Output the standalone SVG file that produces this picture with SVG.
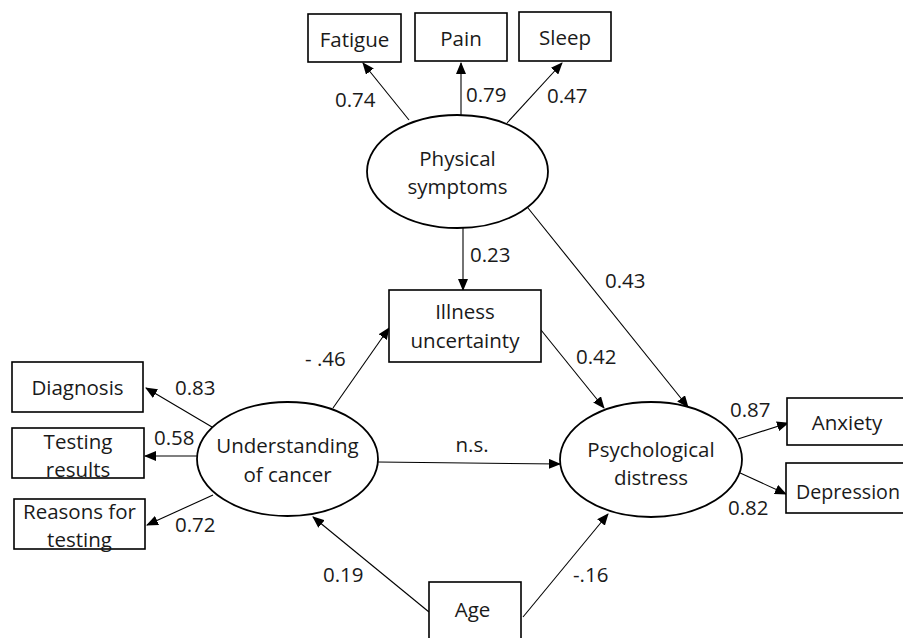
<svg xmlns="http://www.w3.org/2000/svg" width="903" height="638" viewBox="0 0 903 638">
<defs>
<marker id="ah" markerWidth="12" markerHeight="10" refX="11" refY="5" orient="auto" markerUnits="userSpaceOnUse">
<path d="M0,0 L12,5 L0,10 Z" fill="#000"/>
</marker>
<style>
text{font-family:"Open Sans","DejaVu Sans",sans-serif;font-size:20.5px;fill:#1a1a1a;text-anchor:middle}
.box{fill:#fff;stroke:#000;stroke-width:1.6}
.ell{fill:#fff;stroke:#000;stroke-width:1.8}
.ln{stroke:#000;stroke-width:1.1;fill:none;marker-end:url(#ah)}
.lbl{text-anchor:start}
</style>
</defs>
<rect width="903" height="638" fill="#fff"/>
<g id="connectors">
<line class="ln" x1="409" y1="120" x2="363" y2="63"/>
<line class="ln" x1="461" y1="117" x2="461" y2="63"/>
<line class="ln" x1="507" y1="123" x2="562" y2="63"/>
<line class="ln" x1="463" y1="228" x2="463" y2="290"/>
<line class="ln" x1="528" y1="208" x2="688" y2="407"/>
<line class="ln" x1="541" y1="330" x2="604" y2="408"/>
<line class="ln" x1="333" y1="408" x2="389" y2="328"/>
<line class="ln" x1="212" y1="427" x2="146" y2="388"/>
<line class="ln" x1="197" y1="456" x2="145" y2="456"/>
<line class="ln" x1="213" y1="495" x2="147" y2="525"/>
<line class="ln" x1="378" y1="462" x2="560" y2="464"/>
<line class="ln" x1="738" y1="439" x2="788" y2="423"/>
<line class="ln" x1="738" y1="472" x2="786" y2="494"/>
<line class="ln" x1="429" y1="612" x2="313" y2="517"/>
<line class="ln" x1="523" y1="617" x2="608" y2="514"/>
</g>
<g id="fatigue"><rect class="box" x="308" y="14" width="93" height="48"/><text x="354.5" y="47">Fatigue</text></g>
<g id="pain"><rect class="box" x="415" y="13" width="92" height="48"/><text x="461" y="46">Pain</text></g>
<g id="sleep"><rect class="box" x="519" y="12" width="92" height="49"/><text x="565" y="45">Sleep</text></g>
<g id="physical"><ellipse class="ell" cx="457.5" cy="171.5" rx="90.5" ry="56.5"/><text x="457.5" y="166">Physical</text><text x="457.5" y="194">symptoms</text></g>
<g id="illness"><rect class="box" x="389" y="290" width="152" height="72"/><text x="465" y="319">Illness</text><text x="465" y="348">uncertainty</text></g>
<g id="understanding"><ellipse class="ell" cx="287.5" cy="459" rx="90.5" ry="57"/><text x="287.5" y="453">Understanding</text><text x="287.5" y="482">of cancer</text></g>
<g id="psych"><ellipse class="ell" cx="651" cy="459.5" rx="91" ry="57.5"/><text x="651" y="457">Psychological</text><text x="651" y="485">distress</text></g>
<g id="diagnosis"><rect class="box" x="12" y="362" width="131" height="50"/><text x="77.5" y="395">Diagnosis</text></g>
<g id="testing"><rect class="box" x="12" y="428" width="132" height="50"/><text x="78" y="449">Testing</text><text x="78" y="477">results</text></g>
<g id="reasons"><rect class="box" x="14" y="499" width="131" height="50"/><text x="79.5" y="519">Reasons for</text><text x="79.5" y="547">testing</text></g>
<g id="anxiety"><rect class="box" x="787" y="398" width="120" height="47"/><text x="847" y="430">Anxiety</text></g>
<g id="depression"><rect class="box" x="786" y="463" width="130" height="50"/><text class="lbl" x="796" y="499" font-size="19.5" textLength="104" lengthAdjust="spacingAndGlyphs">Depression</text></g>
<g id="age"><rect class="box" x="429" y="582" width="92" height="70"/><text x="472.5" y="617">Age</text></g>
<g id="labels">
<text class="lbl" x="335" y="107">0.74</text>
<text class="lbl" x="466" y="102">0.79</text>
<text class="lbl" x="547" y="103">0.47</text>
<text class="lbl" x="470" y="262">0.23</text>
<text class="lbl" x="605" y="288">0.43</text>
<text class="lbl" x="576" y="364">0.42</text>
<text class="lbl" x="305" y="366">- .46</text>
<text class="lbl" x="175" y="395">0.83</text>
<text class="lbl" x="154" y="445">0.58</text>
<text class="lbl" x="175" y="532">0.72</text>
<text x="472" y="452">n.s.</text>
<text class="lbl" x="730" y="417">0.87</text>
<text class="lbl" x="728" y="515">0.82</text>
<text class="lbl" x="323" y="582">0.19</text>
<text class="lbl" x="573" y="582">-.16</text>
</g>
</svg>
